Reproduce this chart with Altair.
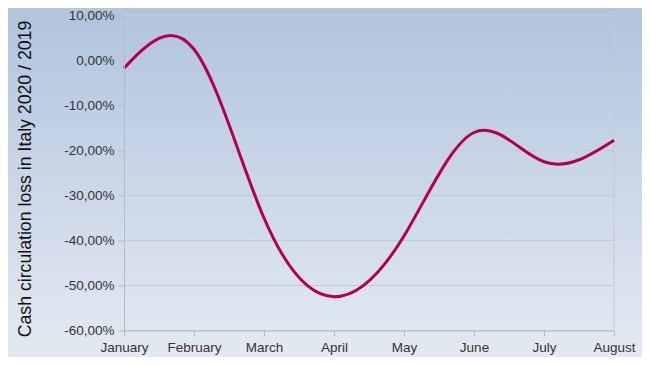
import altair as alt
import pandas as pd

months = ["January", "February", "March", "April", "May", "June", "July", "August"]
loss = [-0.017, 0.025, -0.35, -0.525, -0.39, -0.16, -0.225, -0.177]
y_ticks = [0.10, 0.0, -0.10, -0.20, -0.30, -0.40, -0.50, -0.60]

W, H = 490, 315
df = pd.DataFrame({"month": months, "loss": loss})
grid_df = pd.DataFrame({"v": y_ticks})

bg = alt.Chart(pd.DataFrame({"a": [0]})).mark_rect(
    fill=alt.Gradient(
        gradient="linear", x1=0, y1=0, x2=0, y2=1,
        stops=[alt.GradientStop(offset=0, color="#b0c4dd"),
               alt.GradientStop(offset=1, color="#e6ebf3")],
    )
).encode(x=alt.value(-130), x2=alt.value(W + 40), y=alt.value(-10), y2=alt.value(H + 40))

grid = alt.Chart(grid_df).mark_rule(color="#c6c9ce", strokeWidth=1).encode(
    y=alt.Y("v:Q", scale=alt.Scale(domain=[-0.6, 0.1])),
    x=alt.value(0), x2=alt.value(W),
)

right_border = alt.Chart(pd.DataFrame({"a": [0]})).mark_rule(color="#c6c9ce", strokeWidth=1).encode(
    x=alt.value(W), y=alt.value(0), y2=alt.value(H)
)

line = alt.Chart(df).mark_line(color="#b3004e", strokeWidth=3, interpolate="natural").encode(
    x=alt.X("month:N", sort=months, scale=alt.Scale(type="point", padding=0),
            axis=alt.Axis(title=None, labelAngle=0, tickSize=5, labelPadding=5,
                          labelFontSize=13.5, labelColor="#333333", labelFont="Liberation Sans",
                          domainColor="#b8bbc0", tickColor="#b8bbc0", grid=False, zindex=1)),
    y=alt.Y("loss:Q", scale=alt.Scale(domain=[-0.6, 0.1], nice=False),
            axis=alt.Axis(values=y_ticks, grid=False, tickSize=6, labelPadding=4,
                          labelFontSize=13.5, labelColor="#333333", labelFont="Liberation Sans",
                          labelExpr="replace(replace(format(datum.value, '.2%'), '.', ','), '\u2212', '-')",
                          domainColor="#b8bbc0", tickColor="#b8bbc0", zindex=1,
                          title="Cash circulation loss in Italy 2020 / 2019",
                          titleFont="Liberation Sans", titleFontSize=17.7, titleFontWeight="normal",
                          titleColor="#111111", titleAngle=270, titleX=-99, titleY=163,
                          titleAlign="center", titleBaseline="middle")),
)

chart = alt.layer(bg, grid, right_border, line).properties(
    width=W, height=H,
    autosize=alt.AutoSizeParams(type="none"),
    padding={"left": 116, "top": 7.5, "right": 28, "bottom": 26},
    background="#e6ebf3",
).configure_view(stroke=None)

chart.save("out.html", embed_options={"renderer": "svg", "actions": False})
